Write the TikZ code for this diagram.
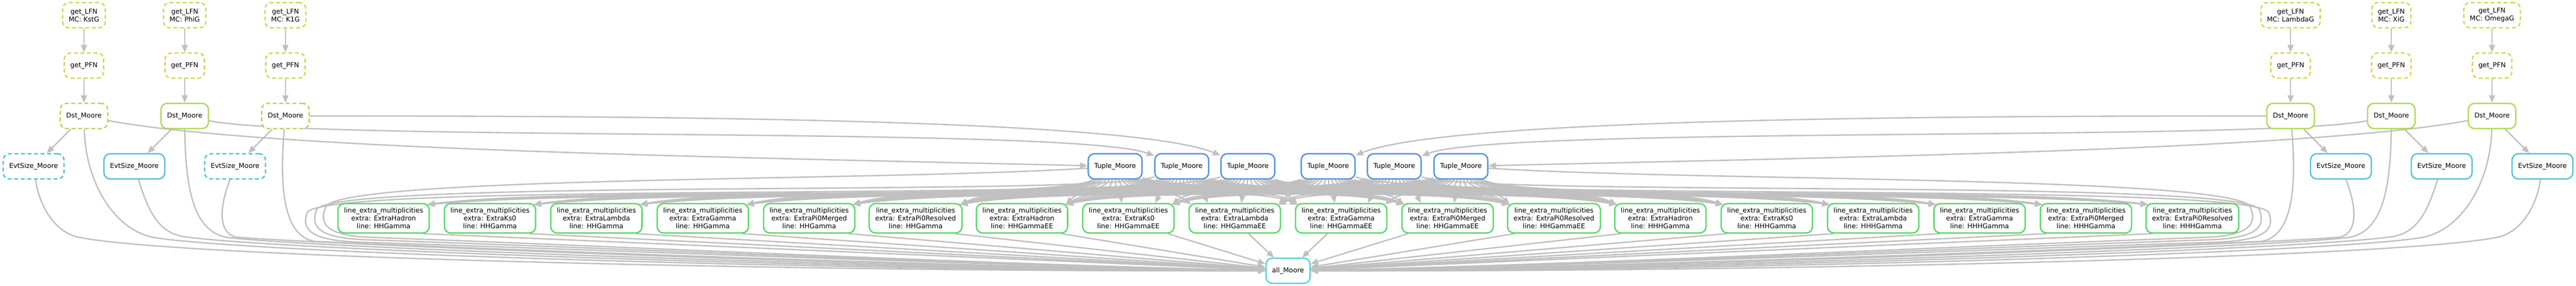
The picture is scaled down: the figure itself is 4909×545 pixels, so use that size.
\documentclass[tikz,border=0pt]{standalone}
\usepackage{fontspec}
\setmainfont{DejaVu Sans}
\usetikzlibrary{arrows.meta}
\definecolor{lfncol}{RGB}{204,217,87}
\definecolor{pfncol}{RGB}{217,211,87}
\definecolor{dstcol}{RGB}{176,217,87}
\definecolor{evtcol}{RGB}{87,193,217}
\definecolor{tuplecol}{RGB}{87,146,217}
\definecolor{multcol}{RGB}{87,217,104}
\definecolor{allcol}{RGB}{87,212,217}
\definecolor{depgray}{RGB}{192,192,192}
\pgfdeclarelayer{edges}
\pgfsetlayers{edges,main}
\tikzset{
  job/.style={draw,rounded corners=12pt,line width=2.6pt,fill=white,
    minimum height=48pt,inner xsep=11.5pt,inner ysep=8pt,align=center,
    font=\fontsize{12.8}{15}\selectfont},
  skipped/.style={dash pattern=on 7.5pt off 5pt},
  dep/.style={draw=depgray,line width=2.6pt,-{Triangle[length=14pt,width=11.5pt]}}
}
\begin{document}
\begin{tikzpicture}[x=1pt,y=-1pt]
\useasboundingbox (0,0) rectangle (4909,545);
\node[job,skipped,draw=lfncol] (l1) at (160,29) {get\_LFN\\MC: KstG};
\node[job,skipped,draw=lfncol] (l2) at (352,29) {get\_LFN\\MC: PhiG};
\node[job,skipped,draw=lfncol] (l3) at (544,29) {get\_LFN\\MC: K1G};
\node[job,skipped,draw=lfncol] (l4) at (4365,29) {get\_LFN\\MC: LambdaG};
\node[job,skipped,draw=lfncol] (l5) at (4557,29) {get\_LFN\\MC: XiG};
\node[job,skipped,draw=lfncol] (l6) at (4749,29) {get\_LFN\\MC: OmegaG};
\foreach \x [count=\i] in {160,352,544,4365,4557,4749}
  \node[job,skipped,draw=pfncol] (p\i) at (\x,125) {get\_PFN};
\node[job,skipped,draw=dstcol] (d1) at (160,221) {Dst\_Moore};
\node[job,draw=dstcol] (d2) at (352,221) {Dst\_Moore};
\node[job,skipped,draw=dstcol] (d3) at (544,221) {Dst\_Moore};
\node[job,draw=dstcol] (d4) at (4365,221) {Dst\_Moore};
\node[job,draw=dstcol] (d5) at (4557,221) {Dst\_Moore};
\node[job,draw=dstcol] (d6) at (4749,221) {Dst\_Moore};
\node[job,skipped,draw=evtcol] (e1) at (64,317) {EvtSize\_Moore};
\node[job,draw=evtcol] (e2) at (256,317) {EvtSize\_Moore};
\node[job,skipped,draw=evtcol] (e3) at (448,317) {EvtSize\_Moore};
\node[job,draw=evtcol] (e4) at (4461,317) {EvtSize\_Moore};
\node[job,draw=evtcol] (e5) at (4653,317) {EvtSize\_Moore};
\node[job,draw=evtcol] (e6) at (4845,317) {EvtSize\_Moore};
\foreach \x [count=\i] in {2125,2252,2378,2531,2657,2784}
  \node[job,draw=tuplecol] (t\i) at (\x,317) {Tuple\_Moore};
\foreach \xname/\lname [count=\k] in {ExtraHadron/HHGamma,ExtraKs0/HHGamma,
    ExtraLambda/HHGamma,ExtraGamma/HHGamma,ExtraPi0Merged/HHGamma,
    ExtraPi0Resolved/HHGamma,ExtraHadron/HHGammaEE,ExtraKs0/HHGammaEE,
    ExtraLambda/HHGammaEE,ExtraGamma/HHGammaEE,ExtraPi0Merged/HHGammaEE,
    ExtraPi0Resolved/HHGammaEE,ExtraHadron/HHHGamma,ExtraKs0/HHHGamma,
    ExtraLambda/HHHGamma,ExtraGamma/HHHGamma,ExtraPi0Merged/HHHGamma,
    ExtraPi0Resolved/HHHGamma}
  \node[job,draw=multcol] (g\k) at ({731+202.76*(\k-1)},416)
    {line\_extra\_multiplicities\\extra: \xname\\line: \lname};
\node[job,draw=allcol] (all) at (2454.5,516) {all\_Moore};

\begin{pgfonlayer}{edges}
\foreach \i in {1,...,6}{
  \draw[dep] (l\i) -- (p\i);
  \draw[dep] (p\i) -- (d\i);
  \draw[dep] (d\i) -- (e\i);
}
% Dst to Tuple
\draw[dep] (d1) .. controls (500,285) and (1400,300) .. (t1);
\draw[dep] (d2) .. controls (600,270) and (2050,240) .. (t2);
\draw[dep] (d3) .. controls (1200,221) and (2150,225) .. (t3);
\draw[dep] (d4) .. controls (3709,221) and (2759,225) .. (t4);
\draw[dep] (d5) .. controls (4309,270) and (2859,240) .. (t5);
\draw[dep] (d6) .. controls (4409,285) and (3509,300) .. (t6);
% Tuple to every line_extra_multiplicities
\foreach \tx [count=\j] in {2125,2252,2378,2531,2657,2784}{
  \foreach \k in {1,...,18}{
    \pgfmathsetmacro{\dx}{731+202.76*(\k-1)-\tx}
    \ifdim \dx pt<-150pt
      \draw[dep] (t\j) .. controls +(0.08*\dx,68) and +(-0.2*\dx,-36) .. ([shift={(-5,3)}]g\k.north east);
    \else\ifdim \dx pt>150pt
      \draw[dep] (t\j) .. controls +(0.08*\dx,68) and +(-0.2*\dx,-36) .. ([shift={(5,3)}]g\k.north west);
    \else
      \draw[dep] (t\j) .. controls +(0.08*\dx,68) and +(-0.2*\dx,-36) .. ([shift={(-0.5*\dx,0)}]g\k.north);
    \fi\fi
  }
}
% line_extra_multiplicities to all
\foreach \k/\s in {1/75,2/75,3/75,4/75,5/75,6/75,7/75,8/75,9/26,10/-26,
    11/-75,12/-75,13/-75,14/-75,15/-75,16/-75,17/-75,18/-75}
  \draw[dep] ([xshift=\s pt]g\k.south) -- (all);
% left side to all
\draw[dep] (e1) .. controls (76,398) and (108,444) .. (150,452) .. controls (330,490) and (1500,518) .. (all);
\draw[dep] (d1) .. controls (163,345) and (215,435) .. (290,452) .. controls (460,482) and (1600,516) .. (all);
\draw[dep] (e2) .. controls (282,400) and (300,440) .. (345,450) .. controls (500,476) and (1650,514) .. (all);
\draw[dep] (d2) .. controls (353,375) and (375,440) .. (430,452) .. controls (580,472) and (1700,512) .. (all);
\draw[dep] (e3) .. controls (418,395) and (415,443) .. (450,452) .. controls (630,466) and (1750,511) .. (all);
\draw[dep] (d3) .. controls (530,380) and (548,452) .. (600,460) .. controls (720,466) and (1800,510) .. (all);
\draw[dep] (t1) .. controls (1700,345) and (680,335) .. (622,392) .. controls (605,428) and (625,448) .. (700,452) .. controls (1200,470) and (1900,505) .. (all);
\draw[dep] (t2) .. controls (2100,375) and (660,340) .. (604,398) .. controls (588,436) and (615,454) .. (700,457) .. controls (1200,474) and (1900,506) .. (all);
\draw[dep] (t3) .. controls (2200,385) and (640,345) .. (586,404) .. controls (570,444) and (605,460) .. (700,462) .. controls (1200,478) and (1900,507) .. (all);
% right side to all
\draw[dep] (e6) .. controls (4833,398) and (4801,444) .. (4759,452) .. controls (4579,490) and (3409,518) .. (all);
\draw[dep] (d6) .. controls (4746,345) and (4694,435) .. (4619,452) .. controls (4449,482) and (3309,516) .. (all);
\draw[dep] (e5) .. controls (4627,400) and (4609,440) .. (4564,450) .. controls (4409,476) and (3259,514) .. (all);
\draw[dep] (d5) .. controls (4556,375) and (4534,440) .. (4479,452) .. controls (4329,472) and (3209,512) .. (all);
\draw[dep] (e4) .. controls (4491,395) and (4494,443) .. (4459,452) .. controls (4279,466) and (3159,511) .. (all);
\draw[dep] (d4) .. controls (4379,380) and (4361,452) .. (4309,460) .. controls (4189,466) and (3109,510) .. (all);
\draw[dep] (t6) .. controls (3209,345) and (4229,335) .. (4287,392) .. controls (4304,428) and (4284,448) .. (4209,452) .. controls (3709,470) and (3009,505) .. (all);
\draw[dep] (t5) .. controls (2809,375) and (4249,340) .. (4305,398) .. controls (4321,436) and (4294,454) .. (4209,457) .. controls (3709,474) and (3009,506) .. (all);
\draw[dep] (t4) .. controls (2709,385) and (4269,345) .. (4323,404) .. controls (4339,444) and (4304,460) .. (4209,462) .. controls (3709,478) and (3009,507) .. (all);
\end{pgfonlayer}
\end{tikzpicture}
\end{document}
